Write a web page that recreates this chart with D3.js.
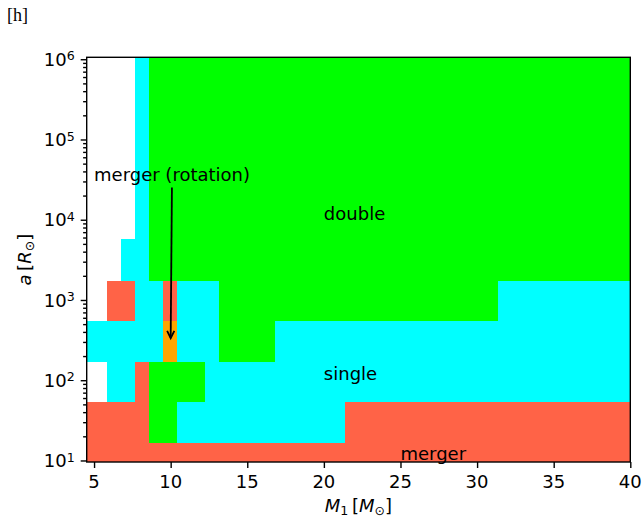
<!DOCTYPE html>
<html>
<head>
<meta charset="utf-8">
<script src="https://cdn.jsdelivr.net/npm/d3@7"></script>
<style>
  body { margin: 0; background: #fff; }
  svg { display: block; font-family: "DejaVu Sans", sans-serif; }
  .tick line { stroke: #000; stroke-width: 1.4; }
</style>
</head>
<body>
<svg class="chart"></svg>
<script>
// grid edges of the outcome map (M1 in Msun, a in Rsun)
const m1Edges = [4.52, 5.85, 6.76, 7.68, 8.59, 9.51, 10.42, 12.25, 13.16, 16.82, 21.39, 31.38, 40];
const aEdges = [9.57, 16.5, 53.6, 169, 547, 1726, 5754, 1.057e6];

// outcome per cell, rows from the smallest a upward
// M = merger, S = single, D = double, R = merger (rotation), - = nothing
const outcomeRows = [
    "MMMMMMMMMMMM",
    "MMMMDDSSSSMM",
    "-SSMDDDSSSSS",
    "SSSSSRSSDSSS",
    "-MMSSMSSDDDS",
    "--SSDDDDDDDD",
    "---SDDDDDDDD"
];
const outcomeColors = {M: "#ff6347", S: "#00ffff", D: "#00ff00", R: "#ffa500"};

const xTicks = [5, 10, 15, 20, 25, 30, 35, 40];
const yTickExps = [1, 2, 3, 4, 5, 6];

const regionLabels = [
    {text: "double", m1: 20, a: 1e4},
    {text: "single", m1: 20, a: 1e2},
    {text: "merger", m1: 25, a: 1e1}
];
const rotationNote = {text: "merger (rotation)", m1: 5, a: 3e4, toM1: 10, toA: 316};

const canvas = {width: 644, height: 520};
const margin = {top: 57.3, bottom: 58, right: 13.7, left: 86.7};
const chart_dimensions = {
    width: canvas.width - (margin.right + margin.left),
    height: canvas.height - (margin.top + margin.bottom)
};

const x = d3.scaleLinear()
    .domain([m1Edges[0], m1Edges[m1Edges.length - 1]])
    .range([0, chart_dimensions.width]);
const y = d3.scaleLog()
    .domain([aEdges[0], aEdges[aEdges.length - 1]])
    .range([chart_dimensions.height, 0]);

const svg = d3.select(".chart")
    .attr("width", canvas.width)
    .attr("height", canvas.height);

svg.append("text")
    .attr("x", 7)
    .attr("y", 20.5)
    .style("font-family", "'Liberation Serif', serif")
    .style("font-size", "18px")
    .text("[h]");

const chart = svg.append("g")
    .attr("transform", "translate(" + margin.left + "," + margin.top + ")");

// cells
const cells = [];
outcomeRows.forEach(function (row, r) {
    row.split("").forEach(function (code, c) {
        if (code !== "-") cells.push({r: r, c: c, code: code});
    });
});

chart.selectAll(".cell")
    .data(cells)
    .enter()
    .append("rect")
    .classed("cell", true)
    .attr("x", d => x(m1Edges[d.c]))
    .attr("width", d => x(m1Edges[d.c + 1]) - x(m1Edges[d.c]))
    .attr("y", d => y(aEdges[d.r + 1]))
    .attr("height", d => y(aEdges[d.r]) - y(aEdges[d.r + 1]))
    .attr("fill", d => outcomeColors[d.code])
    .attr("shape-rendering", "crispEdges");

// axes
const xAxis = d3.axisBottom(x).tickValues(xTicks).tickSize(6).tickFormat("");
chart.append("g")
    .attr("transform", "translate(0," + chart_dimensions.height + ")")
    .call(xAxis)
    .call(g => g.select(".domain").remove());

chart.selectAll(".x-label")
    .data(xTicks)
    .enter()
    .append("text")
    .classed("x-label", true)
    .attr("x", d => x(d))
    .attr("y", chart_dimensions.height + 26)
    .attr("text-anchor", "middle")
    .style("font-size", "18px")
    .text(d => d);

const minorTicks = [];
yTickExps.forEach(function (e) {
    for (let k = 2; k <= 9; k++) {
        const v = k * Math.pow(10, e);
        if (v <= y.domain()[1]) minorTicks.push(v);
    }
});

chart.append("g")
    .call(d3.axisLeft(y).tickValues(yTickExps.map(e => Math.pow(10, e))).tickSize(6).tickFormat(""))
    .call(g => g.select(".domain").remove());
chart.append("g")
    .call(d3.axisLeft(y).tickValues(minorTicks).tickSize(3.6).tickFormat(""))
    .call(g => g.select(".domain").remove());

const yLabels = chart.selectAll(".y-label")
    .data(yTickExps)
    .enter()
    .append("text")
    .classed("y-label", true)
    .attr("x", -12)
    .attr("y", d => y(Math.pow(10, d)) + 6.6)
    .attr("text-anchor", "end")
    .style("font-size", "18px");
yLabels.append("tspan").text("10");
yLabels.append("tspan").attr("dy", -5.5).style("font-size", "12.6px").text(d => d);

// frame
chart.append("rect")
    .attr("width", chart_dimensions.width)
    .attr("height", chart_dimensions.height)
    .attr("fill", "none")
    .attr("stroke", "#000")
    .attr("stroke-width", 1.4);

// region labels
chart.selectAll(".region-label")
    .data(regionLabels)
    .enter()
    .append("text")
    .classed("region-label", true)
    .attr("x", d => x(d.m1))
    .attr("y", d => y(d.a))
    .style("font-size", "18px")
    .text(d => d.text);

// annotation with arrow
const note = chart.append("text")
    .attr("x", x(rotationNote.m1))
    .attr("y", y(rotationNote.a))
    .style("font-size", "18px")
    .text(rotationNote.text);
const noteWidth = note.node().getComputedTextLength();
const x0 = x(rotationNote.m1) + noteWidth / 2, y0 = y(rotationNote.a) - 6;
const x1 = x(rotationNote.toM1), y1 = y(rotationNote.toA);
const ang = Math.atan2(y1 - y0, x1 - x0);
const startY = y(rotationNote.a) + 6;
const sx = x0 + (startY - y0) / Math.tan(ang);
const tipX = x1 - 2 * Math.cos(ang), tipY = y1 - 2 * Math.sin(ang);
chart.append("line")
    .attr("x1", sx).attr("y1", startY)
    .attr("x2", tipX).attr("y2", tipY)
    .attr("stroke", "#000").attr("stroke-width", 1.8);
const hl = 7.2, hw = 3.6;
const bx = tipX - hl * Math.cos(ang), by = tipY - hl * Math.sin(ang);
chart.append("path")
    .attr("d", "M" + (bx - hw * Math.sin(ang)) + "," + (by + hw * Math.cos(ang)) +
        "L" + tipX + "," + tipY +
        "L" + (bx + hw * Math.sin(ang)) + "," + (by - hw * Math.cos(ang)))
    .attr("fill", "none").attr("stroke", "#000").attr("stroke-width", 1.8);

// axis titles
const xTitle = chart.append("text")
    .attr("x", chart_dimensions.width / 2)
    .attr("y", chart_dimensions.height + 50)
    .attr("text-anchor", "middle")
    .style("font-size", "18px");
xTitle.append("tspan").style("font-style", "italic").text("M");
xTitle.append("tspan").attr("dy", 3).style("font-size", "12.6px").text("1");
xTitle.append("tspan").attr("dy", -3).text("\u2009[");
xTitle.append("tspan").style("font-style", "italic").text("M");
xTitle.append("tspan").attr("dy", 3).style("font-size", "12.6px").text("\u2299");
xTitle.append("tspan").attr("dy", -3).text("]");

const yTitle = svg.append("text")
    .attr("transform", "translate(31," + (margin.top + chart_dimensions.height / 2) + ") rotate(-90)")
    .attr("text-anchor", "middle")
    .style("font-size", "18px");
yTitle.append("tspan").style("font-style", "italic").text("a");
yTitle.append("tspan").text("\u2009[");
yTitle.append("tspan").style("font-style", "italic").text("R");
yTitle.append("tspan").attr("dy", 3).style("font-size", "12.6px").text("\u2299");
yTitle.append("tspan").attr("dy", -3).text("]");
</script>
</body>
</html>
